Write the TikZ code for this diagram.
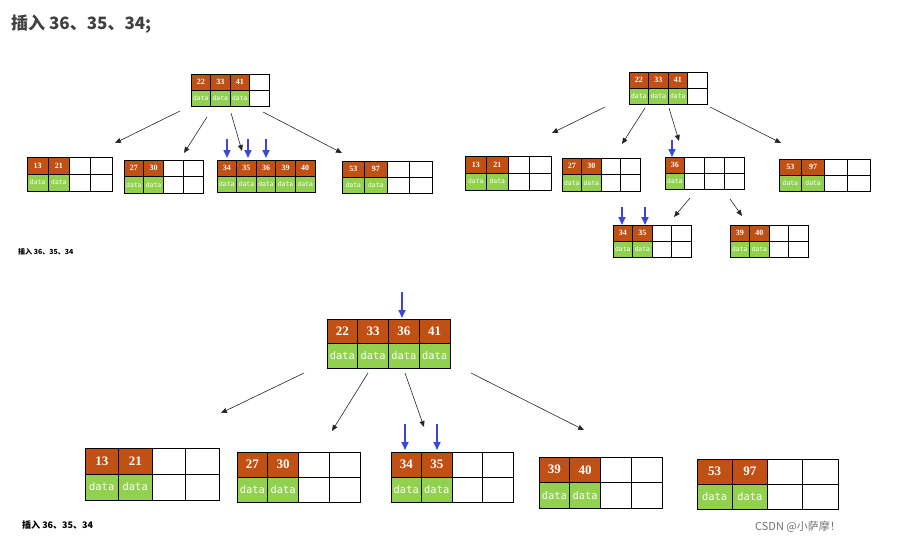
\documentclass[tikz,border=0pt]{standalone}
\usepackage{fontspec}
\newfontfamily\cjk{Noto Sans CJK SC}
\newfontfamily\monof{DejaVu Sans Mono}
\setmainfont{Liberation Serif}
\definecolor{keyc}{RGB}{192,80,20}
\definecolor{datc}{RGB}{146,208,80}
\definecolor{blu}{RGB}{60,70,220}
\usetikzlibrary{arrows.meta}
\tikzset{
 ar/.style={-{Triangle[length=6pt,width=5pt]},line width=0.6pt,black!85},
 bar/.style={-{Triangle[length=8pt,width=7pt]},line width=1.6pt,blu},
}
\newcommand\bt[8]{%
 \pgfmathsetmacro\cw{#4/#6}
 \pgfmathsetmacro\dfs{#8*0.8}
 \foreach \k [count=\i] in {#7} {
  \fill[keyc] (#2+\cw*\i-\cw,#3) rectangle ++(\cw,#5/2);
  \fill[datc] (#2+\cw*\i-\cw,#3+#5/2) rectangle ++(\cw,#5/2);
  \node[text=white,font=\bfseries\fontsize{#8}{#8}\selectfont,inner sep=0] (#1k\i) at (#2+\cw*\i-\cw/2,#3+#5/4) {\k};
  \node[text=white,font=\monof\fontsize{\dfs}{#8}\selectfont,inner sep=0] (#1d\i) at (#2+\cw*\i-\cw/2,#3+#5*3/4) {data};
 }
 \pgfmathtruncatemacro\nm{#6-1}
 \foreach \j in {1,...,\nm} {\draw[line width=0.8pt] (#2+\cw*\j,#3) -- ++(0,#5);}
 \draw[line width=0.8pt] (#2,#3+#5/2) -- ++(#4,0);
 \node[draw,line width=1.2pt,minimum width=#4pt,minimum height=#5pt,anchor=north west,inner sep=0] (#1) at (#2,#3) {};
}
\begin{document}
\begin{tikzpicture}[x=1pt,y=-1pt]
\useasboundingbox (0,0) rectangle (898,546);
\node[anchor=west,font=\cjk\bfseries\fontsize{17}{17}\selectfont,text=black!75,inner sep=0] (title) at (11,24) {插入 36、35、34;};
% top left
\bt{a}{191}{74}{78}{32}{4}{22,33,41}{8}
\bt{b}{27}{157}{85}{34}{4}{13,21}{8}
\bt{c}{124}{160}{79}{33}{4}{27,30}{8}
\bt{d}{217}{160}{98}{32}{5}{34,35,36,39,40}{8}
\bt{e}{342}{161}{90}{32}{4}{53,97}{8}
\draw[ar] (180,111) -- (115,143);
\draw[ar] (207,117) -- (184,153);
\draw[ar] (231,113) -- (242,151);
\draw[ar] (263,112) -- (342,153);
\foreach \x in {227,248,266} \draw[bar] (\x,139) -- (\x,158);
\node[anchor=west,font=\cjk\bfseries\fontsize{7}{7}\selectfont,inner sep=0] (n1) at (18,252) {插入 36、35、34};
% top right
\bt{f}{629}{72}{78}{32}{4}{22,33,41}{8}
\bt{g}{465}{156}{86}{34}{4}{13,21}{8}
\bt{h}{562}{158}{78}{33}{4}{27,30}{8}
\bt{i}{665}{157}{79}{32}{4}{36}{8}
\bt{j}{779}{159}{91}{32}{4}{53,97}{8}
\bt{k}{613}{225}{78}{32}{4}{34,35}{8}
\bt{l}{730}{225}{78}{32}{4}{39,40}{8}
\draw[ar] (605,107) -- (552,133);
\draw[ar] (645,108) -- (622,144);
\draw[ar] (669,108) -- (679,141);
\draw[ar] (710,107) -- (781,143);
\draw[ar] (690,198) -- (674,217);
\draw[ar] (730,199) -- (742,216);
\draw[bar] (672,140) -- (672,157);
\foreach \x in {622,645} \draw[bar] (\x,207) -- (\x,225);
% bottom
\bt{m}{327}{319}{123}{49}{4}{22,33,36,41}{13}
\bt{o}{85}{448}{134}{52}{4}{13,21}{13}
\bt{p}{237}{452}{123}{50}{4}{27,30}{13}
\bt{q}{391}{452}{122}{50}{4}{34,35}{13}
\bt{r}{539}{457}{123}{51}{4}{39,40}{13}
\bt{s}{697}{459}{141}{50}{4}{53,97}{13}
\draw[bar] (402,292) -- (402,318);
\draw[ar] (304,373) -- (221,413);
\draw[ar] (368,373) -- (332,431);
\draw[ar] (405,373) -- (424,427);
\draw[ar] (471,373) -- (584,430);
\foreach \x in {405,437} \draw[bar] (\x,424) -- (\x,450);
\node[anchor=west,font=\cjk\bfseries\fontsize{9}{9}\selectfont,inner sep=0] (n2) at (22,525) {插入 36、35、34};
\node[anchor=west,font=\cjk\fontsize{11}{11}\selectfont,text=black!55,inner sep=0] (wm) at (755,527) {CSDN @小萨摩！};
\end{tikzpicture}
\end{document}
